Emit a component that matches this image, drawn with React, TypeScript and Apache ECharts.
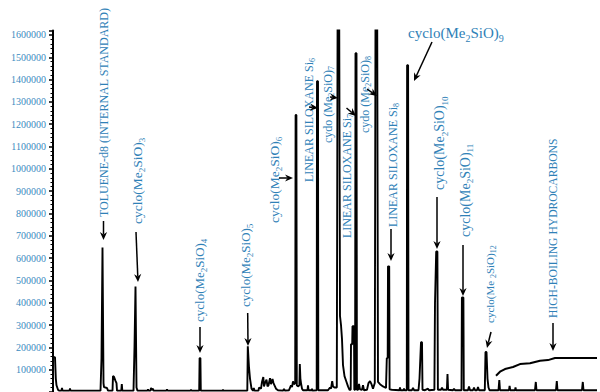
import React, { useEffect, useRef } from 'react';
import * as echarts from 'echarts';

// ---- axis ----
const yAxisMax = 1620000;
const yTickStep = 100000;
const timeMax = 54.7; // retention time, minutes (no labels on the x axis)

// ---- total ion chromatogram: [retention time (min), intensity] ----
const chromatogram: [number, number][] = [
  [0.03, 156000], [0.2, 156000], [0.28, 60000], [0.35, 30000], [0.5, 10000], [0.6, 6000],
  [0.85, 6000], [0.9, 18000], [0.95, 6000], [1.65, 6000], [1.7, 16000], [1.75, 6000],
  [4.75, 6000], [4.85, 150000], [4.95, 647000], [5.05, 40000], [5.1, 22000], [5.4, 18000], [5.5, 6000],
  [5.95, 6000], [6.0, 71000], [6.1, 68000], [6.25, 50000], [6.35, 40000], [6.4, 6000],
  [6.83, 6000], [6.88, 36000], [6.93, 6000],
  [8.05, 6000], [8.15, 200000], [8.25, 473000], [8.35, 20000], [8.45, 6000],
  [9.45, 6000], [9.5, 12000], [9.55, 6000], [9.75, 6000], [9.8, 18000], [9.9, 10000], [10.0, 15000], [10.05, 6000],
  [11.35, 6000], [11.4, 12000], [11.45, 6000], [13.75, 6000], [13.8, 11000], [13.85, 6000],
  [14.62, 6000], [14.66, 152000], [14.74, 152000], [14.78, 6000],
  [16.95, 6000], [17.0, 10000], [17.05, 6000],
  [19.43, 6000], [19.48, 205000], [19.53, 205000], [19.6, 110000], [19.7, 60000], [19.85, 15000], [20.0, 6000],
  [20.08, 18000], [20.15, 6000], [20.55, 6000], [20.6, 20000], [20.8, 15000], [20.9, 45000], [21.03, 67000],
  [21.1, 25000], [21.2, 40000], [21.35, 55000], [21.45, 25000], [21.55, 30000], [21.7, 62000], [21.8, 35000],
  [21.95, 58000], [22.05, 40000], [22.15, 30000], [22.3, 15000], [22.5, 8000],
  [23.0, 6000], [23.1, 14000], [23.2, 6000], [23.6, 8000], [23.8, 30000], [23.9, 22000], [24.0, 48000], [24.1, 35000],
  [24.22, 40000], [24.26, 1241000], [24.34, 1241000], [24.38, 30000], [24.5, 25000],
  [24.64, 30000], [24.68, 125000], [24.74, 60000], [24.8, 40000], [24.9, 15000], [25.0, 8000],
  [25.45, 8000], [25.5, 30000], [25.55, 8000], [25.85, 8000], [25.9, 14000], [25.95, 6000],
  [26.37, 8000], [26.4, 1393000], [26.5, 1393000], [26.53, 8000],
  [27.5, 8000], [27.7, 20000], [27.8, 15000], [27.92, 49000], [28.0, 25000], [28.15, 20000], [28.38, 20000],
  [28.46, 1700000], [28.62, 1700000], [28.7, 340000], [28.8, 300000], [28.9, 237000], [29.0, 120000],
  [29.15, 71000], [29.35, 45000], [29.5, 25000], [29.65, 10000],
  [29.77, 10000], [29.8, 214000], [29.92, 214000], [29.95, 295000], [30.1, 295000], [30.13, 10000],
  [30.21, 10000], [30.25, 1518000], [30.35, 1518000], [30.39, 10000],
  [30.5, 10000], [30.6, 36000], [30.7, 12000], [30.9, 10000], [31.0, 30000], [31.1, 8000],
  [31.4, 10000], [31.55, 40000], [31.7, 49000], [31.85, 35000], [32.0, 15000], [32.18, 40000],
  [32.25, 1700000], [32.42, 1700000], [32.5, 45000], [32.7, 35000], [33.0, 25000], [33.3, 18000],
  [33.34, 18000], [33.38, 152000], [33.47, 152000], [33.5, 563000], [33.62, 563000], [33.66, 12000], [33.9, 10000],
  [34.65, 8000], [34.7, 20000], [34.75, 8000], [35.05, 8000], [35.1, 15000], [35.15, 8000],
  [35.38, 8000], [35.41, 1464000], [35.51, 1464000], [35.55, 8000],
  [35.9, 8000], [36.0, 18000], [36.1, 8000],
  [36.55, 8000], [36.65, 60000], [36.8, 223000], [36.9, 223000], [36.95, 10000],
  [37.2, 8000], [37.5, 15000], [37.6, 8000],
  [38.14, 10000], [38.2, 400000], [38.32, 630000], [38.44, 630000], [38.49, 10000],
  [38.8, 10000], [38.9, 20000], [39.0, 10000],
  [39.39, 10000], [39.45, 80000], [39.51, 10000],
  [40.0, 8000], [40.1, 15000], [40.2, 8000],
  [40.85, 8000], [40.89, 424000], [41.04, 424000], [41.08, 8000],
  [41.5, 8000], [41.6, 25000], [41.7, 8000], [42.0, 8000], [42.1, 20000], [42.2, 8000],
  [42.4, 8000], [42.5, 22000], [42.6, 8000],
  [43.18, 8000], [43.25, 179000], [43.35, 179000], [43.45, 60000], [43.55, 20000], [43.65, 8000],
  [44.55, 8000], [44.63, 54000], [44.7, 8000], [45.6, 8000], [45.66, 27000], [45.72, 8000],
  [46.2, 8000], [46.25, 20000], [46.3, 8000], [48.2, 8000], [48.28, 45000], [48.35, 8000],
  [50.3, 8000], [50.38, 49000], [50.45, 8000], [52.9, 8000], [52.98, 45000], [53.05, 8000],
  [54.4, 8000],
];

// ---- unresolved high-boiling hydrocarbon envelope ----
const hydrocarbonHump: [number, number][] = [
  [44.3, 73000], [44.7, 91000], [45.2, 103000], [46.0, 112000], [46.7, 125000],
  [47.7, 129000], [48.7, 140000], [49.5, 143000], [50.2, 152000], [54.4, 152000],
];

// ---- annotation texts ({s|..} = subscript) ----
const labelTexts = [
  'TOLUENE-d8 (INTERNAL STANDARD)',
  'cyclo(Me{s|2}SiO){s|3}',
  'cyclo(Me{s|2}SiO){s|4}',
  'cyclo(Me{s|2}SiO){s|5}',
  'cyclo(Me{s|2}SiO){s|6}',
  'LINEAR SILOXANE Si{s|6}',
  'cydo (Me{s|2}SiO){s|7}',
  'LINEAR SILOXANE Si{s|7}',
  'cydo (Me{s|2}SiO){s|8}',
  'LINEAR SILOXANE Si{s|8}',
  'cyclo(Me{s|2}SiO){s|9}',
  'cyclo(Me{s|2}SiO){s|10}',
  'cyclo(Me{s|2}SiO){s|11}',
  'cyclo(Me {s|2}SiO){s|12}',
  'HIGH-BOILING HYDROCARBONS',
];

// layout of annotations (pixels): [x, y, fontSize, rotated]
const labelLayout: [number, number, number, boolean][] = [
  [103.5, 217, 12, true],
  [137.5, 224, 13.5, true],
  [199.5, 322, 13, true],
  [245.5, 307, 13, true],
  [274, 223, 13.5, true],
  [308.5, 182, 12, true],
  [327.5, 143, 12, true],
  [346.5, 238, 12, true],
  [364.5, 133, 12, true],
  [392.5, 227, 12, true],
  [408, 33, 15, false],
  [439.5, 190, 14, true],
  [465, 237, 14, true],
  [489.5, 323, 11, true],
  [553.5, 318, 11.6, true],
];

// arrows (pixels): [x1, y1, x2(tip), y2(tip)]
const arrowLayout: [number, number, number, number][] = [
  [103.5, 221, 103.5, 240],
  [136, 232, 138, 282],
  [200, 327, 200, 353],
  [247.7, 313, 248, 346],
  [279, 178, 293, 178],
  [309, 107, 318, 108],
  [330, 97, 338, 98],
  [346.5, 108, 356, 116],
  [367, 89, 377, 96],
  [391, 229, 391, 261],
  [432, 42, 414, 81],
  [437, 197, 437, 249],
  [463, 245, 463, 296],
  [491, 332, 487, 348],
  [553, 323, 553, 351],
];

const serif = "'Liberation Serif', 'Times New Roman', serif";
const blue = '#2f81b7';

function buildGraphics() {
  const g: any[] = [];
  labelTexts.forEach((text, i) => {
    const [x, y, size, rotated] = labelLayout[i];
    g.push({
      type: 'text',
      x,
      y,
      rotation: rotated ? Math.PI / 2 : 0,
      silent: true,
      z: 10,
      style: {
        text,
        fill: blue,
        fontSize: size,
        fontFamily: serif,
        align: 'left',
        verticalAlign: 'middle',
        lineHeight: Math.round(size * 1.35),
        rich: {
          s: {
            fill: blue,
            fontFamily: serif,
            fontSize: Math.max(8, Math.round(size * 0.66)),
            lineHeight: Math.max(8, Math.round(size * 0.66)),
            verticalAlign: 'bottom',
          },
        },
      },
    });
  });
  arrowLayout.forEach(([x1, y1, x2, y2]) => {
    const dx = x2 - x1;
    const dy = y2 - y1;
    const len = Math.hypot(dx, dy);
    const ux = dx / len;
    const uy = dy / len;
    const hl = 8;
    const hw = 3.6;
    const notch = 5.5;
    const bx = x2 - ux * hl;
    const by = y2 - uy * hl;
    const nx = -uy;
    const ny = ux;
    const mx = x2 - ux * notch;
    const my = y2 - uy * notch;
    g.push({
      type: 'line',
      silent: true,
      z: 10,
      shape: { x1, y1, x2: mx, y2: my },
      style: { stroke: '#000', lineWidth: 1.5 },
    });
    g.push({
      type: 'polygon',
      silent: true,
      z: 10,
      shape: {
        points: [
          [x2, y2],
          [bx + nx * hw, by + ny * hw],
          [mx, my],
          [bx - nx * hw, by - ny * hw],
        ],
      },
      style: { fill: '#000' },
    });
  });
  return g;
}

export default function App() {
  const ref = useRef<HTMLDivElement>(null);
  useEffect(() => {
    document.body.style.margin = '0';
    if (!ref.current) return;
    const chart = echarts.init(ref.current, undefined, { renderer: 'svg' });
    chart.setOption({
      animation: false,
      backgroundColor: '#fff',
      grid: { left: 53, right: 0, top: 30.5, bottom: -1.4, containLabel: false },
      xAxis: {
        type: 'value',
        min: 0,
        max: timeMax,
        show: false,
      },
      yAxis: {
        type: 'value',
        min: 0,
        max: yAxisMax,
        interval: yTickStep,
        axisLine: { show: true, lineStyle: { color: '#000', width: 2 } },
        axisTick: { show: true, inside: false, length: 4, lineStyle: { color: '#000', width: 1.5 } },
        minorTick: { show: true, splitNumber: 5, length: 2.5, lineStyle: { color: '#000', width: 1 } },
        splitLine: { show: false },
        minorSplitLine: { show: false },
        axisLabel: {
          color: '#3a8bc0',
          fontFamily: serif,
          fontSize: 10,
          margin: 7,
          formatter: (v: number) => (v === 0 || v % yTickStep !== 0 ? '' : String(v)),
        },
      },
      series: [
        {
          type: 'line',
          data: chromatogram,
          showSymbol: false,
          clip: true,
          lineStyle: { color: '#000', width: 1.9 },
          silent: true,
        },
        {
          type: 'line',
          data: hydrocarbonHump,
          showSymbol: false,
          clip: true,
          lineStyle: { color: '#000', width: 2 },
          silent: true,
        },
      ],
      graphic: buildGraphics(),
    });
    return () => chart.dispose();
  }, []);
  return (
    <div
      ref={ref}
      style={{ position: 'fixed', left: 0, top: 0, width: 600, height: 392, background: '#fff' }}
    />
  );
}
